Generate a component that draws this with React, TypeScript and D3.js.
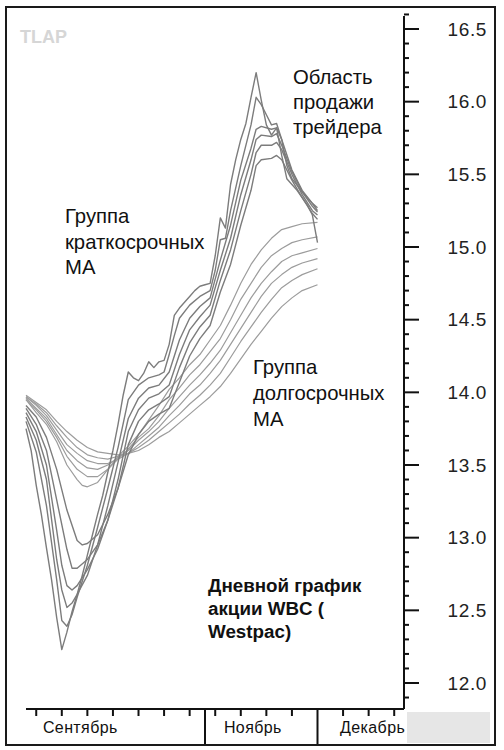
import React from "react";
import * as d3 from "d3";

// ---- data (bar index = trading day, value = price) ----
const shortMA3: [number, number][] = [[0,13.75],[1,13.60],[2,13.36],[3,13.16],[4,12.93],[5,12.71],[6,12.45],[7,12.23],[8,12.35],[9,12.49],[10,12.61],[11,12.74],[12,12.88],[13,13.02],[14,13.16],[15,13.29],[16,13.45],[17,13.60],[18,13.78],[19,13.98],[20,14.14],[21,14.10],[22,14.08],[23,14.13],[24,14.21],[25,14.17],[26,14.21],[27,14.22],[28,14.33],[29,14.53],[30,14.58],[31,14.62],[32,14.66],[33,14.70],[34,14.73],[35,14.74],[36,14.75],[37,14.94],[38,15.20],[39,15.13],[40,15.43],[41,15.60],[42,15.74],[43,15.85],[44,16.03],[45,16.20],[46,16.01],[47,15.84],[48,15.77],[49,15.82],[50,15.63],[51,15.47],[52,15.43],[53,15.39],[54,15.34],[55,15.29],[56,15.22],[57,15.03]];
const shortMA5: [number, number][] = [[0,13.80],[2,13.59],[4,13.22],[6,12.71],[7,12.43],[8,12.39],[9,12.47],[10,12.59],[12,12.81],[14,13.07],[16,13.34],[18,13.62],[20,13.95],[22,14.05],[24,14.10],[26,14.12],[27,14.14],[28,14.26],[29,14.39],[30,14.51],[32,14.60],[34,14.66],[36,14.70],[37,14.84],[38,15.05],[39,15.06],[40,15.25],[42,15.56],[44,15.84],[45,16.03],[46,15.98],[47,15.91],[48,15.84],[49,15.85],[50,15.74],[51,15.56],[52,15.47],[54,15.38],[56,15.30],[57,15.27]];
const shortMA8: [number, number][] = [[0,13.83],[2,13.67],[4,13.40],[6,12.85],[7,12.64],[8,12.52],[9,12.55],[10,12.61],[12,12.74],[14,12.95],[16,13.22],[18,13.52],[20,13.82],[22,13.96],[24,14.03],[26,14.05],[28,14.14],[30,14.36],[32,14.51],[34,14.59],[36,14.65],[38,14.91],[40,15.15],[42,15.46],[44,15.68],[45,15.81],[46,15.83],[48,15.81],[49,15.82],[50,15.74],[52,15.53],[54,15.39],[56,15.30],[57,15.25]];
const shortMA10: [number, number][] = [[0,13.86],[2,13.73],[4,13.50],[6,13.05],[7,12.81],[8,12.67],[9,12.64],[10,12.67],[12,12.78],[14,12.92],[16,13.12],[18,13.40],[20,13.73],[22,13.88],[24,13.96],[26,13.99],[28,14.05],[30,14.26],[32,14.43],[34,14.52],[36,14.60],[38,14.84],[40,15.06],[42,15.36],[44,15.60],[45,15.74],[46,15.77],[48,15.76],[49,15.78],[50,15.70],[52,15.52],[54,15.38],[56,15.28],[57,15.24]];
const shortMA12: [number, number][] = [[0,13.89],[2,13.78],[4,13.60],[6,13.26],[8,12.92],[9,12.79],[10,12.79],[12,12.85],[14,12.95],[16,13.12],[18,13.34],[20,13.64],[22,13.80],[24,13.88],[26,13.92],[28,13.97],[30,14.17],[32,14.34],[34,14.45],[36,14.53],[38,14.77],[40,14.98],[42,15.25],[44,15.50],[45,15.65],[46,15.70],[48,15.70],[49,15.72],[50,15.67],[52,15.50],[54,15.36],[56,15.25],[57,15.22]];
const shortMA15: [number, number][] = [[0,13.91],[2,13.83],[4,13.69],[6,13.47],[8,13.19],[10,12.98],[11,12.95],[12,12.96],[14,13.02],[16,13.16],[18,13.34],[20,13.57],[22,13.71],[24,13.80],[26,13.85],[28,13.89],[30,14.07],[32,14.25],[34,14.37],[36,14.46],[38,14.69],[40,14.88],[42,15.15],[44,15.39],[45,15.56],[46,15.60],[48,15.61],[49,15.63],[50,15.60],[52,15.46],[54,15.34],[56,15.23],[57,15.19]];

const longMA30: [number, number][] = [[0,13.95],[2,13.86],[4,13.78],[6,13.66],[8,13.50],[10,13.40],[11,13.36],[12,13.35],[14,13.38],[16,13.47],[18,13.56],[20,13.63],[22,13.71],[24,13.81],[26,13.91],[28,14.02],[30,14.10],[32,14.19],[34,14.26],[36,14.36],[38,14.46],[40,14.60],[42,14.75],[44,14.88],[46,14.98],[48,15.06],[50,15.12],[52,15.14],[54,15.16],[57,15.17]];
const longMA35: [number, number][] = [[0,13.95],[2,13.88],[4,13.80],[6,13.69],[8,13.56],[10,13.47],[12,13.42],[14,13.42],[16,13.47],[18,13.54],[20,13.61],[22,13.69],[24,13.75],[26,13.84],[28,13.95],[30,14.03],[32,14.12],[34,14.19],[36,14.28],[38,14.37],[40,14.50],[42,14.64],[44,14.75],[46,14.86],[48,14.94],[50,14.99],[52,15.03],[54,15.05],[57,15.07]];
const longMA40: [number, number][] = [[0,13.96],[2,13.89],[4,13.82],[6,13.71],[8,13.60],[10,13.53],[12,13.48],[14,13.47],[16,13.50],[18,13.55],[20,13.60],[22,13.67],[24,13.73],[26,13.80],[28,13.89],[30,13.97],[32,14.05],[34,14.12],[36,14.20],[38,14.29],[40,14.41],[42,14.53],[44,14.65],[46,14.75],[48,14.83],[50,14.90],[52,14.94],[54,14.96],[57,14.99]];
const longMA45: [number, number][] = [[0,13.97],[2,13.91],[4,13.84],[6,13.74],[8,13.64],[10,13.58],[12,13.53],[14,13.51],[16,13.51],[18,13.54],[20,13.58],[22,13.64],[24,13.70],[26,13.76],[28,13.84],[30,13.91],[32,13.99],[34,14.05],[36,14.13],[38,14.22],[40,14.33],[42,14.44],[44,14.55],[46,14.66],[48,14.75],[50,14.81],[52,14.86],[54,14.89],[57,14.92]];
const longMA50: [number, number][] = [[0,13.97],[2,13.92],[4,13.86],[6,13.77],[8,13.69],[10,13.62],[12,13.57],[14,13.55],[16,13.54],[18,13.56],[20,13.58],[22,13.62],[24,13.67],[26,13.73],[28,13.79],[30,13.85],[32,13.92],[34,13.98],[36,14.05],[38,14.13],[40,14.24],[42,14.35],[44,14.45],[46,14.55],[48,14.64],[50,14.72],[52,14.77],[54,14.81],[57,14.85]];
const longMA60: [number, number][] = [[0,13.98],[2,13.93],[4,13.88],[6,13.80],[8,13.73],[10,13.67],[12,13.62],[14,13.59],[16,13.58],[18,13.57],[20,13.58],[22,13.60],[24,13.64],[26,13.69],[28,13.73],[30,13.79],[32,13.85],[34,13.91],[36,13.97],[38,14.04],[40,14.13],[42,14.23],[44,14.33],[46,14.42],[48,14.51],[50,14.59],[52,14.65],[54,14.70],[57,14.74]];

const shortGroup = [shortMA3, shortMA5, shortMA8, shortMA10, shortMA12, shortMA15];
const longGroup = [longMA30, longMA35, longMA40, longMA45, longMA50, longMA60];

const yMajorTicks = [12.0, 12.5, 13.0, 13.5, 14.0, 14.5, 15.0, 15.5, 16.0, 16.5];
const weekTickDays = [2, 7, 12, 17, 22, 27, 32, 37, 42, 47, 52, 62, 67, 72];
const monthStartDays = [35, 57];
const monthLabels = ["Сентябрь", "Ноябрь", "Декабрь"];
const monthLabelDays = [3.3, 38.7, 61.4];

const sellZoneText = ["Область", "продажи", "трейдера"];
const shortGroupText = ["Группа", "краткосрочных", "МА"];
const longGroupText = ["Группа", "долгосрочных", "МА"];
const captionText = ["Дневной график", "акции WBC (", "Westpac)"];

const FONT = "'Liberation Sans', Arial, Helvetica, sans-serif";

export default function App() {
  const W = 504, H = 750;
  const x = d3.scaleLinear().domain([0, 57]).range([26, 317.5]);
  const y = d3.scaleLinear().domain([12.0, 16.5]).range([683, 29]);
  const axisX = 404;
  const axisBottom = 709;
  const yTop = y(16.59);
  const yBot = y(11.83);

  const line = d3.line<[number, number]>().x(d => x(d[0])).y(d => y(d[1])).curve(d3.curveLinear);

  const minorTicks = d3.range(119, 167).map(v => v / 10);

  const textBlock = (lines: string[], x0: number, y0: number, dy: number, size: number, weight: string, fill = "#111") =>
    lines.map((t, i) => (
      <text key={i} x={x0} y={y0 + i * dy} fontSize={size} fontWeight={weight} fontFamily={FONT} fill={fill}>{t}</text>
    ));

  return (
    <svg width={W} height={H} style={{ position: "absolute", left: 0, top: 0, background: "#fff" }}>
      <rect x={0} y={0} width={W} height={H} fill="#fff" />
      {/* gray box bottom-right */}
      <rect x={407} y={712} width={83} height={31} fill="#e6e6e6" />

      {/* watermark */}
      <text x={20} y={43} fontSize={18} fontWeight="bold" fontFamily={FONT} fill="#d6d6d6">TLAP</text>

      {/* long group lines */}
      {longGroup.map((s, i) => (
        <path key={"l" + i} d={line(s) || ""} fill="none" stroke="#9c9c9c" strokeWidth={1.2} strokeLinejoin="round" />
      ))}
      {/* short group lines */}
      {shortGroup.map((s, i) => (
        <path key={"s" + i} d={line(s) || ""} fill="none" stroke="#7c7c7c" strokeWidth={1.4} strokeLinejoin="round" />
      ))}

      {/* right axis */}
      <line x1={axisX} x2={axisX} y1={yTop} y2={Math.max(yBot, axisBottom)} stroke="#111" strokeWidth={2} />
      {minorTicks.map((v, i) => {
        const major = Math.abs(v * 2 - Math.round(v * 2)) < 1e-6;
        return <line key={i} x1={axisX} x2={axisX + (major ? 15 : 5)} y1={y(v)} y2={y(v)} stroke="#111" strokeWidth={2} />;
      })}
      {yMajorTicks.map((v, i) => (
        <text key={i} x={487} y={y(v) + 6.5} textAnchor="end" fontSize={19} fontFamily={FONT} fill="#222" letterSpacing={0.6}>{v.toFixed(1)}</text>
      ))}

      {/* bottom axis */}
      <line x1={26} x2={axisX} y1={axisBottom} y2={axisBottom} stroke="#111" strokeWidth={2} />
      {weekTickDays.map((d, i) => (
        <line key={i} x1={x(d)} x2={x(d)} y1={axisBottom} y2={axisBottom + 7} stroke="#111" strokeWidth={2} />
      ))}
      {monthStartDays.map((d, i) => (
        <line key={i} x1={x(d)} x2={x(d)} y1={axisBottom} y2={745} stroke="#111" strokeWidth={2} />
      ))}
      {monthLabels.map((m, i) => (
        <text key={i} x={x(monthLabelDays[i])} y={733} fontSize={16} fontFamily={FONT} fill="#111" letterSpacing={0.4}>{m}</text>
      ))}

      {/* annotations */}
      {textBlock(sellZoneText, 293, 84, 25, 20.3, "normal")}
      {textBlock(shortGroupText, 65, 223, 25.5, 20.3, "normal")}
      {textBlock(longGroupText, 253, 374, 26, 20.3, "normal")}
      {textBlock(captionText, 208, 592, 23, 18.8, "bold")}

      {/* outer frame */}
      <rect x={6} y={7} width={489} height={738} fill="none" stroke="#1a1a1a" strokeWidth={2} />
    </svg>
  );
}
